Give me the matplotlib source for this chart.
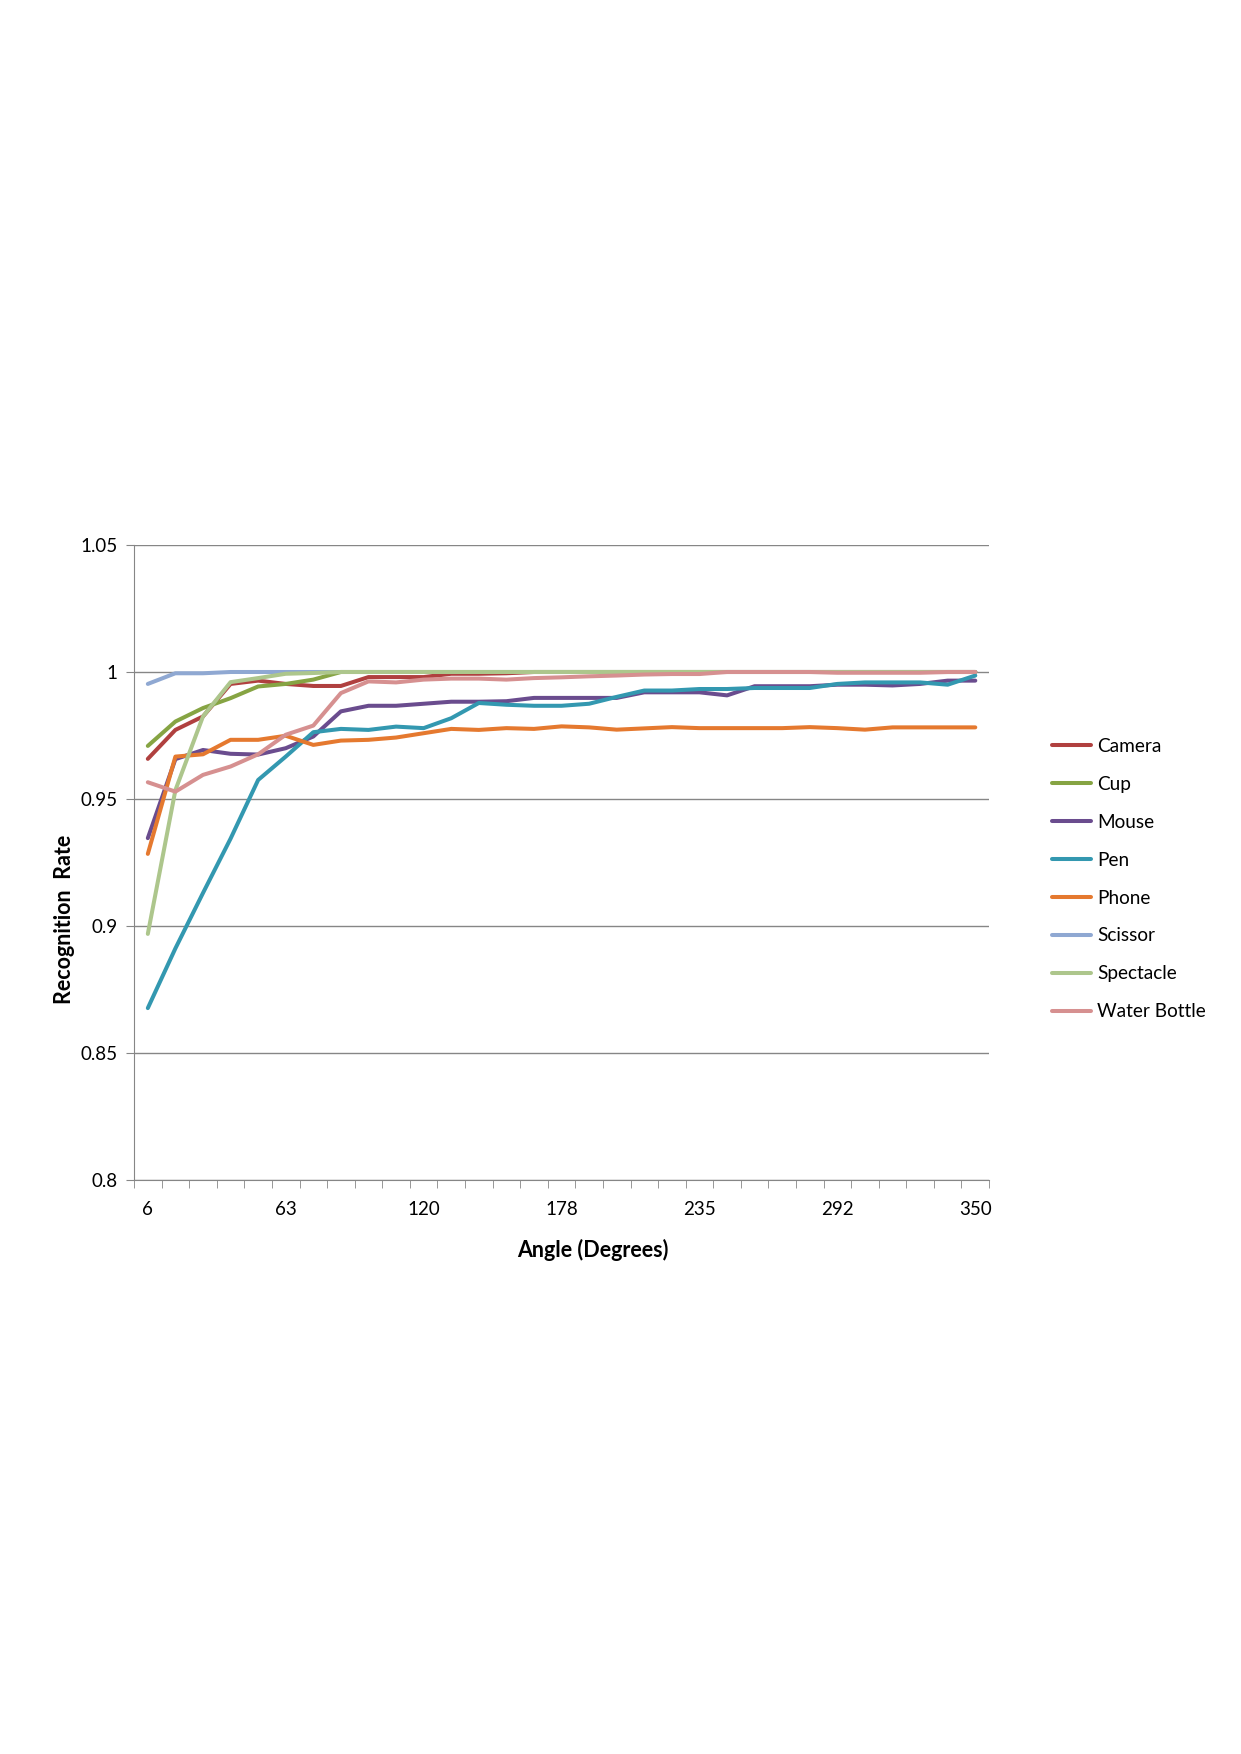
import matplotlib.pyplot as plt
import numpy as np

plt.rcParams['font.family'] = ['Lato', 'DejaVu Sans']

# 31 angle steps from 6 to 350 degrees
angles = [6, 17, 28, 40, 51, 63, 74, 86, 97, 109, 120, 132, 143, 155, 166, 178,
          189, 200, 212, 223, 235, 246, 258, 269, 281, 292, 304, 315, 327, 338, 350]

camera = [0.9658, 0.9772, 0.9825, 0.9953, 0.9966, 0.9953, 0.9945, 0.9945, 0.998, 0.998,
          0.998, 0.9993, 0.9993, 0.9995, 1.0, 1.0, 1.0, 1.0, 1.0, 1.0,
          1.0, 1.0, 1.0, 1.0, 1.0, 1.0, 1.0, 1.0, 1.0, 1.0, 1.0]
cup = [0.9709, 0.9805, 0.9858, 0.9897, 0.9943, 0.9953, 0.997, 1.0, 1.0, 1.0,
       1.0, 1.0, 1.0, 1.0, 1.0, 1.0, 1.0, 1.0, 1.0, 1.0,
       1.0, 1.0, 1.0, 1.0, 1.0, 1.0, 1.0, 1.0, 1.0, 1.0, 1.0]
mouse = [0.9346, 0.9657, 0.9693, 0.9678, 0.9675, 0.970, 0.9746, 0.9845, 0.9867, 0.9867,
         0.9875, 0.9883, 0.9883, 0.9885, 0.9898, 0.9898, 0.9898, 0.9898, 0.992, 0.992,
         0.992, 0.9908, 0.9944, 0.9944, 0.9944, 0.995, 0.995, 0.9947, 0.9953, 0.9966, 0.9966]
pen = [0.8677, 0.8912, 0.9130, 0.9344, 0.9575, 0.9667, 0.9763, 0.9776, 0.9772, 0.9785,
       0.9779, 0.9818, 0.9878, 0.9871, 0.9867, 0.9867, 0.9875, 0.9902, 0.9927, 0.9927,
       0.9933, 0.9933, 0.9937, 0.9937, 0.9937, 0.9953, 0.9959, 0.9959, 0.9959, 0.995, 0.9986]
phone = [0.9284, 0.9667, 0.9676, 0.9733, 0.9733, 0.9749, 0.9713, 0.973, 0.9733, 0.9742,
         0.9759, 0.9776, 0.9772, 0.9779, 0.9776, 0.9786, 0.9782, 0.9773, 0.9778, 0.9783,
         0.9779, 0.9779, 0.9779, 0.9779, 0.9783, 0.9779, 0.9773, 0.9782, 0.9782, 0.9782, 0.9782]
scissor = [0.9953, 0.9995, 0.9995, 1.0, 1.0, 1.0, 1.0, 1.0, 1.0, 1.0,
           1.0, 1.0, 1.0, 1.0, 1.0, 1.0, 1.0, 1.0, 1.0, 1.0,
           1.0, 1.0, 1.0, 1.0, 1.0, 1.0, 1.0, 1.0, 1.0, 1.0, 1.0]
spectacle = [0.8969, 0.9535, 0.9825, 0.996, 0.9976, 0.9993, 0.9996, 1.0, 1.0, 1.0,
             1.0, 1.0, 1.0, 1.0, 1.0, 1.0, 1.0, 1.0, 1.0, 1.0,
             1.0, 1.0, 1.0, 1.0, 1.0, 1.0, 1.0, 1.0, 1.0, 1.0, 1.0]
water_bottle = [0.9566, 0.9529, 0.9595, 0.9628, 0.9676, 0.9753, 0.9789, 0.9917, 0.9963, 0.9959,
                0.997, 0.9974, 0.9974, 0.997, 0.9976, 0.9979, 0.9983, 0.9986, 0.999, 0.9992,
                0.9992, 1.0, 1.0, 1.0, 1.0, 0.9997, 0.9997, 0.9997, 0.9997, 1.0, 1.0]

names = ['Camera', 'Cup', 'Mouse', 'Pen', 'Phone', 'Scissor', 'Spectacle', 'Water Bottle']
series = [camera, cup, mouse, pen, phone, scissor, spectacle, water_bottle]
colors = ['#B0403F', '#86A443', '#6A4C8E', '#3398B0', '#E5792F', '#8FA8D2', '#ADC68C', '#D69090']

fig = plt.figure(figsize=(12.41, 17.54), dpi=100)
ax = fig.add_axes([0.108, 0.3272, 0.689, 0.3621])

x = np.arange(len(angles))
for name, vals, c in zip(names, series, colors):
    ax.plot(x, vals, color=c, lw=2.9, label=name, solid_capstyle='round')

ax.set_xlim(-0.5, len(angles) - 0.5)
ax.set_ylim(0.8, 1.05)
ax.set_yticks([0.8, 0.85, 0.9, 0.95, 1.0, 1.05])
ax.set_yticklabels(['0.8', '0.85', '0.9', '0.95', '1', '1.05'])
ax.yaxis.grid(True, color='#868686', lw=1)
ax.set_axisbelow(True)

label_idx = list(range(0, len(angles), 5))
ax.set_xticks(label_idx)
ax.set_xticklabels([str(angles[i]) for i in label_idx])
ax.set_xticks(np.arange(-0.5, len(angles)), minor=True)
ax.tick_params(axis='x', which='major', length=0, pad=15, labelsize=13.5)
ax.tick_params(axis='x', which='minor', length=6, color='#868686', direction='out')
ax.tick_params(axis='y', length=6, color='#868686', labelsize=13.5, pad=6)

for s in ['top', 'right']:
    ax.spines[s].set_visible(False)
for s in ['left', 'bottom']:
    ax.spines[s].set_color('#868686')

ax.set_xlabel('Angle (Degrees)', fontsize=15.5, fontweight='bold', labelpad=16)
ax.xaxis.set_label_coords(0.537, -0.092)
ax.set_ylabel('Recognition  Rate', fontsize=15.5, fontweight='bold')
ax.yaxis.set_label_coords(-0.069, 0.41)

ax.legend(loc='center left', bbox_to_anchor=(1.074, 0.474), frameon=False, fontsize=13.7,
          handlelength=2.05, handletextpad=0.3, labelspacing=1.1,
          borderpad=0, borderaxespad=0)

fig.savefig('out.png', dpi=100)
